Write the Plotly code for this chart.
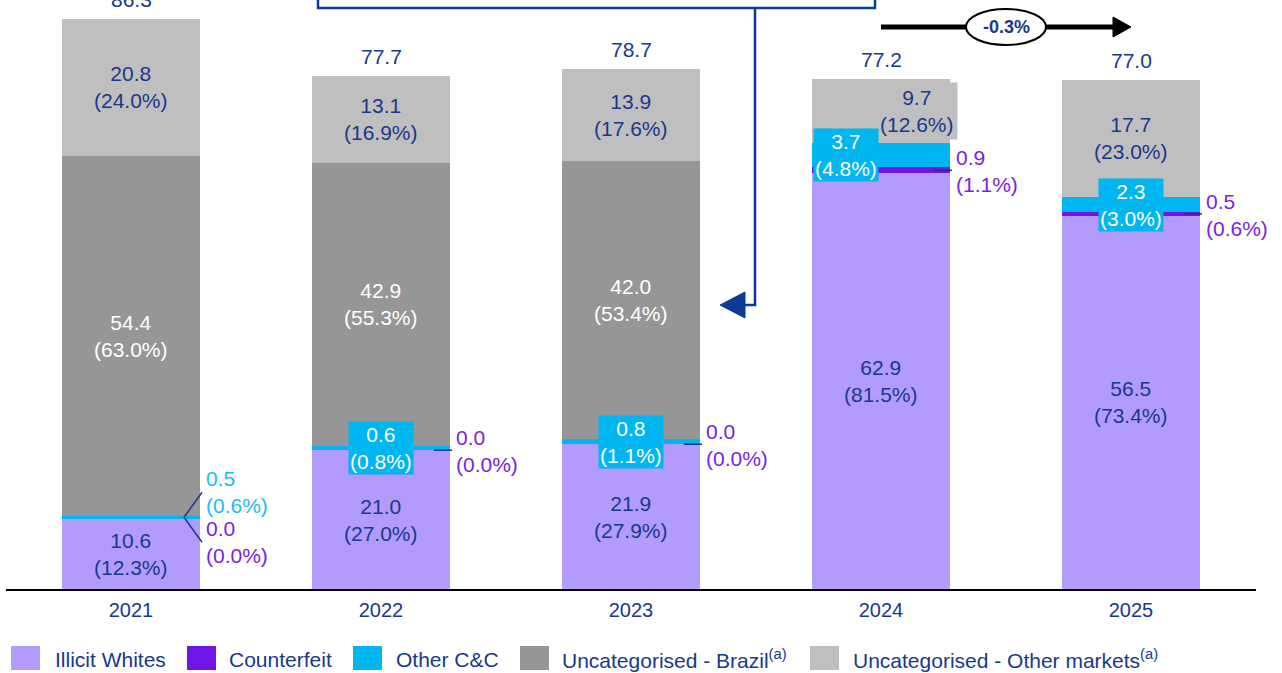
import plotly.graph_objects as go

# ---------------- data ----------------
years = ["2021", "2022", "2023", "2024", "2025"]
illicit_whites = [10.6, 21.0, 21.9, 62.9, 56.5]
counterfeit = [0.0, 0.0, 0.0, 0.9, 0.5]
other_cc = [0.5, 0.6, 0.8, 3.7, 2.3]
uncat_brazil = [54.4, 42.9, 42.0, 0.0, 0.0]
uncat_other = [20.8, 13.1, 13.9, 9.7, 17.7]
totals = [86.3, 77.7, 78.7, 77.2, 77.0]
pct_iw = ["12.3%", "27.0%", "27.9%", "81.5%", "73.4%"]
pct_cf = ["0.0%", "0.0%", "0.0%", "1.1%", "0.6%"]
pct_occ = ["0.6%", "0.8%", "1.1%", "4.8%", "3.0%"]
pct_ub = ["63.0%", "55.3%", "53.4%", "", ""]
pct_uo = ["24.0%", "16.9%", "17.6%", "12.6%", "23.0%"]
growth_label = "-0.3%"
series_names = ["Illicit Whites", "Counterfeit", "Other C&C",
                "Uncategorised - Brazil<sup>(a)</sup>",
                "Uncategorised - Other markets<sup>(a)</sup>"]

# ---------------- style ----------------
C_IW = "#B39BFE"
C_CF = "#7114E6"
C_OCC = "#00B6F0"
C_UB = "#969696"
C_UO = "#BFBFBF"
NAVY = "#17398C"
PURPLE = "#7A22E3"
CYAN_T = "#1ABDF0"
FONT = "Liberation Sans, Arial, sans-serif"

W, H = 1282, 673
ML, MR, MT, MB = 6, 26, 0, 84
PW, PH = W - ML - MR, H - MT - MB
YMAX = 89.1
BW = 0.552


def xp(px):
    return (px - ML) / PW


def yp(py):
    return (H - MB - py) / PH


fig = go.Figure()
cols = [C_IW, C_CF, C_OCC, C_UB, C_UO]
vals = [illicit_whites, counterfeit, other_cc, uncat_brazil, uncat_other]
for name, v, c in zip(series_names, vals, cols):
    fig.add_trace(go.Bar(x=years, y=v, name=name, marker_color=c,
                         marker_line_width=0, width=BW, showlegend=False))

ann = []
shapes = []
lab = dict(size=21, family=FONT)
CTR = dict(xanchor="center", yanchor="middle", showarrow=False)

for i, yr in enumerate(years):
    iw, cf, oc, ub, uo = (illicit_whites[i], counterfeit[i], other_cc[i],
                          uncat_brazil[i], uncat_other[i])
    b_iw = 0
    b_cf = iw
    b_oc = iw + cf
    b_ub = iw + cf + oc
    b_uo = b_ub + ub
    top = b_uo + uo
    # illicit whites
    ann.append(dict(x=i, y=b_iw + iw / 2, text=f"{iw:.1f}<br>({pct_iw[i]})",
                    font=dict(color=NAVY, **lab), **CTR))
    # uncategorised brazil
    if ub > 0:
        ann.append(dict(x=i, y=b_ub + ub / 2, text=f"{ub:.1f}<br>({pct_ub[i]})",
                        font=dict(color="white", **lab), **CTR))
    # uncategorised other
    a = dict(x=i, y=b_uo + uo / 2, text=f"{uo:.1f}<br>({pct_uo[i]})",
             font=dict(color=NAVY, **lab), **CTR)
    if yr == "2024":
        a.update(xshift=36, bgcolor=C_UO, borderpad=3)
    ann.append(a)
    # totals
    ann.append(dict(x=i, y=top, text=f"{totals[i]:.1f}", showarrow=False,
                    xanchor="center", yanchor="bottom", yshift=6,
                    font=dict(color=NAVY, **lab)))
    right = i + BW / 2
    if yr == "2021":
        jy = b_oc + oc / 2
        dy = 25 / (PH / YMAX)
        jx = right - 16 / (PW / 5)
        ex = right + 2 / (PW / 5)
        shapes.append(dict(type="line", xref="x", yref="y", x0=jx, y0=jy, x1=ex,
                           y1=jy + dy, line=dict(color=NAVY, width=1.5)))
        shapes.append(dict(type="line", xref="x", yref="y", x0=jx, y0=jy, x1=ex,
                           y1=jy - dy, line=dict(color=NAVY, width=1.5)))
        ann.append(dict(x=right, y=jy + dy, xanchor="left", yanchor="middle",
                        align="left", xshift=4, showarrow=False,
                        text=f"{oc:.1f}<br>({pct_occ[i]})",
                        font=dict(color=CYAN_T, **lab)))
        ann.append(dict(x=right, y=jy - dy, xanchor="left", yanchor="middle",
                        align="left", xshift=4, showarrow=False,
                        text=f"{cf:.1f}<br>({pct_cf[i]})",
                        font=dict(color=PURPLE, **lab)))
    else:
        # other C&C box label
        a = dict(x=i, y=b_oc + oc / 2, text=f"{oc:.1f}<br>({pct_occ[i]})",
                 bgcolor=C_OCC, borderpad=1,
                 font=dict(color="white", **lab), **CTR)
        if yr == "2024":
            a.update(xshift=-35)
        ann.append(a)
        # counterfeit label + leader
        cy = b_cf + cf / 2
        shapes.append(dict(type="line", xref="x", yref="y",
                           x0=right - 16 / (PW / 5), x1=right + 2 / (PW / 5),
                           y0=cy, y1=cy, line=dict(color=NAVY, width=1.5)))
        ann.append(dict(x=right, y=cy, xanchor="left", yanchor="middle",
                        align="left", xshift=4, yshift=-1, showarrow=False,
                        text=f"{cf:.1f}<br>({pct_cf[i]})",
                        font=dict(color=PURPLE, **lab)))

# --------- bracket with blue arrow ---------
BLUE = "#0B3A94"
BL = dict(color=BLUE, width=2.5)
shapes.append(dict(type="path", xref="paper", yref="paper",
                   path=f"M{xp(318)},{yp(-5)} L{xp(318)},{yp(8)} L{xp(875)},{yp(8)} L{xp(875)},{yp(-5)}",
                   line=BL))
shapes.append(dict(type="path", xref="paper", yref="paper",
                   path=f"M{xp(755)},{yp(8)} L{xp(755)},{yp(305)} L{xp(742)},{yp(305)}",
                   line=BL))
shapes.append(dict(type="path", xref="paper", yref="paper",
                   path=f"M{xp(720)},{yp(305)} L{xp(745)},{yp(292)} L{xp(745)},{yp(318)} Z",
                   fillcolor=BLUE, line=dict(color=BLUE, width=1)))

# --------- black growth arrow ---------
shapes.append(dict(type="line", xref="paper", yref="paper", x0=xp(881), x1=xp(1116),
                   y0=yp(27), y1=yp(27), line=dict(color="black", width=5)))
shapes.append(dict(type="path", xref="paper", yref="paper",
                   path=f"M{xp(1113)},{yp(17)} L{xp(1131)},{yp(27)} L{xp(1113)},{yp(37)} Z",
                   fillcolor="black", line=dict(color="black", width=1)))
shapes.append(dict(type="circle", xref="paper", yref="paper", x0=xp(966), x1=xp(1046),
                   y0=yp(45), y1=yp(9), fillcolor="white",
                   line=dict(color="black", width=2)))
ann.append(dict(xref="paper", yref="paper", x=xp(1006), y=yp(27),
                text=f"<b>{growth_label}</b>", xanchor="center", yanchor="middle",
                showarrow=False, font=dict(color=NAVY, size=18, family=FONT)))

# --------- manual legend ---------
leg_sq = [11, 187, 353, 520, 810]
leg_tx = [53, 227, 394, 560, 851]
for name, c, sx, tx in zip(series_names, cols, leg_sq, leg_tx):
    shapes.append(dict(type="rect", xref="paper", yref="paper", x0=xp(sx), x1=xp(sx + 29),
                       y0=yp(670), y1=yp(646), fillcolor=c, line=dict(width=0)))
    ann.append(dict(xref="paper", yref="paper", x=xp(tx), y=yp(659), xanchor="left",
                    yanchor="middle", text=name, showarrow=False,
                    font=dict(color=NAVY, size=21, family=FONT)))

fig.update_layout(
    barmode="stack", width=W, height=H,
    margin=dict(l=ML, r=MR, t=MT, b=MB, autoexpand=False),
    paper_bgcolor="white", plot_bgcolor="white",
    annotations=ann, shapes=shapes, bargap=0,
    xaxis=dict(type="category", range=[-0.5, 4.5], showline=True, linecolor="black",
               linewidth=2, ticks="", tickfont=dict(size=20, color=NAVY, family=FONT),
               showgrid=False, zeroline=False, ticklabelstandoff=2),
    yaxis=dict(range=[0, YMAX], visible=False, showgrid=False, zeroline=False),
)

fig.write_html("out.html", config={"displayModeBar": False},
               post_script="document.body.style.margin='0';document.body.style.overflow='hidden';")
